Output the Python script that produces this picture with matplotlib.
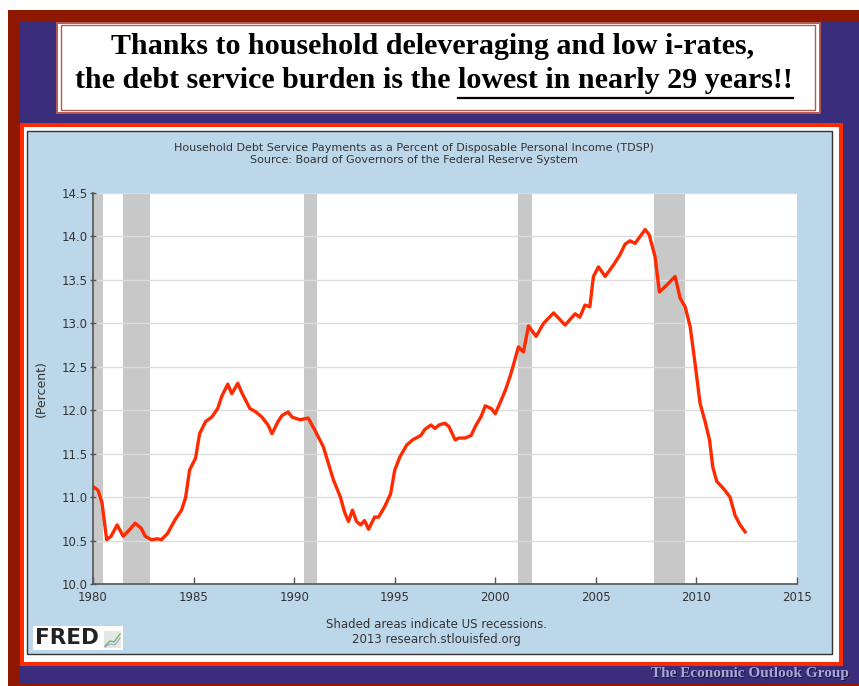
import matplotlib
matplotlib.use("Agg")
import matplotlib.pyplot as plt
from matplotlib.patches import Rectangle

# ---------------- data ----------------
years = [1980.0, 1980.25, 1980.45, 1980.68, 1980.9, 1981.2, 1981.5, 1981.8, 1982.1, 1982.4,
         1982.6, 1982.9, 1983.2, 1983.4, 1983.7, 1984.08, 1984.4, 1984.6, 1984.8, 1985.1,
         1985.3, 1985.6, 1985.9, 1986.2, 1986.4, 1986.7, 1986.9, 1987.2, 1987.4, 1987.8,
         1988.1, 1988.4, 1988.7, 1988.9, 1989.2, 1989.4, 1989.7, 1989.9, 1990.3, 1990.7,
         1991.03, 1991.45, 1991.7, 1991.95, 1992.3, 1992.5, 1992.7, 1992.9, 1993.1, 1993.3,
         1993.5, 1993.7, 1994.0, 1994.2, 1994.5, 1994.8, 1995.0, 1995.25, 1995.6, 1995.9,
         1996.3, 1996.5, 1996.8, 1997.0, 1997.2, 1997.5, 1997.7, 1998.0, 1998.2, 1998.5,
         1998.8, 1999.0, 1999.3, 1999.5, 1999.8, 2000.0, 2000.3, 2000.5, 2000.75, 2000.95,
         2001.15, 2001.4, 2001.65, 2002.03, 2002.4, 2002.9, 2003.47, 2003.97, 2004.2, 2004.46,
         2004.7, 2004.88, 2005.13, 2005.46, 2005.87, 2006.2, 2006.45, 2006.7, 2006.95, 2007.2,
         2007.45, 2007.65, 2007.94, 2008.16, 2008.52, 2008.94, 2009.19, 2009.44, 2009.69, 2009.93,
         2010.18, 2010.43, 2010.65, 2010.81, 2011.01, 2011.34, 2011.67, 2011.92, 2012.17, 2012.42]
tdsp = [11.12, 11.08, 10.93, 10.51, 10.55, 10.68, 10.55, 10.62, 10.70, 10.64,
        10.55, 10.51, 10.52, 10.51, 10.58, 10.74, 10.85, 10.99, 11.31, 11.45,
        11.73, 11.87, 11.92, 12.02, 12.16, 12.30, 12.19, 12.31, 12.20, 12.02,
        11.98, 11.92, 11.83, 11.73, 11.87, 11.94, 11.98, 11.92, 11.89, 11.91,
        11.77, 11.58, 11.39, 11.20, 11.00, 10.83, 10.72, 10.85, 10.72, 10.68,
        10.73, 10.63, 10.77, 10.77, 10.89, 11.04, 11.31, 11.46, 11.60, 11.66,
        11.71, 11.78, 11.83, 11.79, 11.83, 11.85, 11.81, 11.66, 11.68, 11.68,
        11.71, 11.81, 11.93, 12.05, 12.02, 11.96, 12.12, 12.23, 12.40, 12.56,
        12.73, 12.67, 12.97, 12.85, 13.00, 13.12, 12.98, 13.11, 13.07, 13.21,
        13.19, 13.54, 13.65, 13.54, 13.67, 13.79, 13.91, 13.95, 13.92, 14.00,
        14.08, 14.02, 13.77, 13.36, 13.44, 13.54, 13.29, 13.19, 12.96, 12.54,
        12.08, 11.87, 11.66, 11.35, 11.18, 11.10, 11.00, 10.79, 10.68, 10.60]

recession_start = [1980.0, 1981.5, 1990.5, 2001.15, 2007.9]
recession_end = [1980.5, 1982.85, 1991.15, 2001.85, 2009.45]

x_ticks = [1980, 1985, 1990, 1995, 2000, 2005, 2010, 2015]
y_ticks = [10.0, 10.5, 11.0, 11.5, 12.0, 12.5, 13.0, 13.5, 14.0, 14.5]

headline_1 = "Thanks to household deleveraging and low i-rates,"
headline_2a = "the debt service burden is the"
headline_2b = "lowest in nearly 29 years!!"
chart_title = ("Household Debt Service Payments as a Percent of Disposable Personal Income (TDSP)\n"
               "Source: Board of Governors of the Federal Reserve System")
footer = "Shaded areas indicate US recessions.\n2013 research.stlouisfed.org"
brand = "The Economic Outlook Group"

# ---------------- figure ----------------
W, H = 859, 686
fig = plt.figure(figsize=(W / 100, H / 100), dpi=100, facecolor="white")


def fx(x):
    return x / W


def fy(y):
    return 1 - y / H


def rect(x0, y0, x1, y1, z, **kw):
    r = Rectangle((fx(x0), fy(y1)), fx(x1) - fx(x0), fy(y0) - fy(y1),
                  transform=fig.transFigure, zorder=z, **kw)
    fig.add_artist(r)
    return r


# frames
rect(8, 10, 859, 686, -20, facecolor="#8f1800", edgecolor="none")
rect(20, 22, 859, 683, -19, facecolor="#3a2e7c", edgecolor="none")
# headline box (double border)
rect(56.5, 22.5, 819.5, 112.5, -18, facecolor="white", edgecolor="#b45a52", linewidth=1.4)
rect(61, 25.5, 815, 109.5, -17, facecolor="white", edgecolor="#b45a52", linewidth=1.0)
# chart frame
rect(20, 123, 843, 666, -16, facecolor="#ff2a00", edgecolor="none")
rect(24, 127, 839, 662, -15, facecolor="white", edgecolor="none")
rect(27, 131, 832, 654, -14, facecolor="#bdd7ea", edgecolor="#333333", linewidth=1.0)

# headline texts
serif = ["Liberation Serif", "DejaVu Serif"]
hs = 21.6
fig.text(fx(433), fy(46), headline_1, ha="center", va="center", fontsize=hs,
         fontweight="bold", family=serif, color="black", zorder=5)

renderer = fig.canvas.get_renderer()
ta = fig.text(0, fy(80), headline_2a, ha="left", va="center", fontsize=hs,
              fontweight="bold", family=serif, color="black", zorder=5)
tb = fig.text(0, fy(80), headline_2b, ha="left", va="center", fontsize=hs,
              fontweight="bold", family=serif, color="black", zorder=5)
wa = ta.get_window_extent(renderer).width
wb = tb.get_window_extent(renderer).width
space = 0.25 * hs * 100 / 72
total = wa + space + wb
x0 = 434 - total / 2
ta.set_x(fx(x0))
xb = x0 + wa + space
tb.set_x(fx(xb))
fig.add_artist(plt.Line2D([fx(xb), fx(xb + wb)], [fy(97.5), fy(97.5)], transform=fig.transFigure,
                          color="black", linewidth=1.6, zorder=5))

# chart title / footer
fig.text(fx(414), fy(154), chart_title, ha="center", va="center", fontsize=8.0,
         color="#333333", linespacing=1.2, zorder=5)
fig.text(fx(436), fy(632), footer, ha="center", va="center", fontsize=8.5,
         color="#333333", linespacing=1.15, zorder=5)

# FRED logo
rect(33, 626, 123, 650, -5, facecolor="white", edgecolor="none")
fig.text(fx(35), fy(638.5), "FRED", ha="left", va="center", fontsize=15.5,
         fontweight="bold", color="#222222", zorder=6)
rect(104, 631, 121, 648, -4, facecolor="#e4e8e4", edgecolor="none")
fig.add_artist(plt.Line2D([fx(105), fx(110), fx(114), fx(120)], [fy(646), fy(641), fy(642), fy(634)],
                          transform=fig.transFigure, color="#7fb26a", linewidth=1.0, zorder=6))
fig.add_artist(plt.Line2D([fx(105), fx(110), fx(115), fx(120)], [fy(647), fy(644), fy(645), fy(638)],
                          transform=fig.transFigure, color="#8aaad0", linewidth=0.8, zorder=6))

# brand
fig.text(fx(750.5), fy(674.5), brand, ha="center", va="center", fontsize=11,
         fontweight="bold", family=serif, color="#1a1440", zorder=5)
fig.text(fx(749.5), fy(673.5), brand, ha="center", va="center", fontsize=11,
         fontweight="bold", family=serif, color="#aaa6d2", zorder=6)

# axes
ax = fig.add_axes([fx(93), fy(584), (797 - 93) / W, (584 - 193) / H])
ax.set_facecolor("white")
for s, e in zip(recession_start, recession_end):
    ax.axvspan(s, e, facecolor="#c8c8c8", edgecolor="none", zorder=1)
ax.plot(years, tdsp, color="#ff2a00", linewidth=2.4, zorder=3, solid_joinstyle="round")

ax.set_xlim(1980, 2015)
ax.set_ylim(10.0, 14.5)
ax.set_xticks(x_ticks)
ax.set_xticklabels([str(v) for v in x_ticks])
ax.set_yticks(y_ticks)
ax.set_yticklabels([f"{v:.1f}" for v in y_ticks])
ax.yaxis.grid(True, color="#dcdcdc", linewidth=1.0, zorder=2)
ax.set_axisbelow(False)
for sp in ["top", "right"]:
    ax.spines[sp].set_visible(False)
for sp in ["left", "bottom"]:
    ax.spines[sp].set_color("#555555")
    ax.spines[sp].set_linewidth(1.2)
    ax.spines[sp].set_zorder(4)
ax.tick_params(axis="x", direction="in", length=5, width=1, color="#555555",
               labelsize=8.5, labelcolor="#333333", pad=5)
ax.tick_params(axis="y", direction="inout", length=5, width=1, color="#555555",
               labelsize=8.5, labelcolor="#333333", pad=1)
ax.set_ylabel("(Percent)", fontsize=9, color="#333333", labelpad=10)

fig.savefig("out.png", dpi=100, facecolor="white")
